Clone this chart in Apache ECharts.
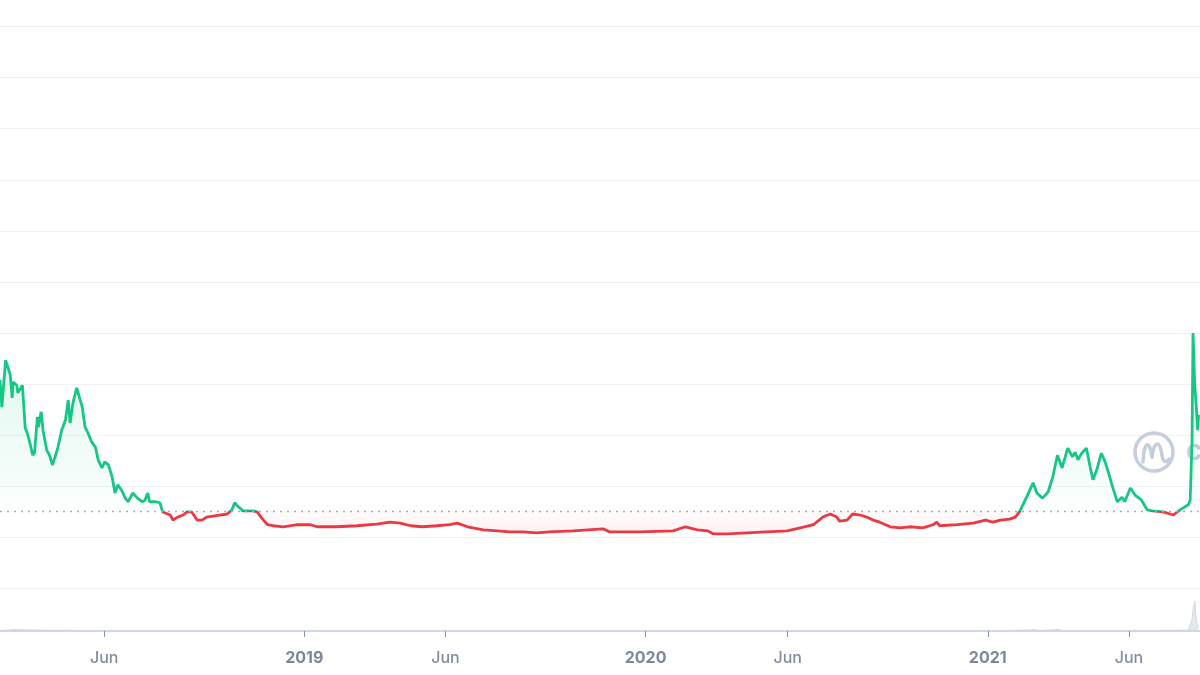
<!DOCTYPE html>
<html>
<head>
<meta charset="utf-8">
<script src="https://cdn.jsdelivr.net/npm/echarts@6/dist/echarts.min.js"></script>
<style>
html,body{margin:0;padding:0;background:#fff;}
#chart{width:1200px;height:675px;}
</style>
</head>
<body>
<div id="chart"></div>
<script>
// ---- data ----
const startDate = '2018-02-09';
// days after startDate
const dayOffsets = [
  0,2,6,11,13,14,18,19,24,25,
  27,29,32,35,37,40,41,44,46,50,
  53,56,59,62,66,70,73,75,78,82,
  84,88,91,94,98,102,105,109,112,116,
  120,123,126,130,134,137,142,147,152,155,
  158,160,166,171,174,182,185,190,196,200,
  205,211,216,221,228,235,243,248,251,255,
  260,265,271,275,280,286,292,303,318,332,
  339,360,382,403,417,428,439,452,467,481,
  489,500,517,532,545,559,574,588,613,645,
  652,685,720,733,746,757,763,778,799,820,
  842,856,870,880,888,895,898,906,912,920,
  927,934,941,952,963,973,987,998,1002,1005,
  1024,1041,1054,1062,1070,1080,1086,1091,1098,1105,
  1109,1115,1121,1126,1131,1136,1139,1142,1147,1150,
  1153,1157,1162,1166,1169,1173,1178,1182,1187,1190,
  1195,1200,1203,1209,1214,1221,1227,1233,1244,1255,
  1262,1271,1273,1275,1276,1278,1280,1281,1282
];
const prices = [
  4.08,3.55,4.47,4.18,3.73,4.04,3.98,3.83,3.98,3.69,
  3.14,3.05,2.85,2.61,2.67,3.36,3.16,3.46,3.10,2.71,
  2.61,2.42,2.58,2.77,3.10,3.30,3.69,3.24,3.63,3.93,
  3.95,3.55,3.16,3.05,2.87,2.77,2.52,2.36,2.48,2.42,
  2.18,1.87,2.03,1.93,1.77,1.70,1.87,1.77,1.70,1.73,
  1.87,1.70,1.70,1.68,1.50,1.44,1.34,1.40,1.44,1.50,
  1.50,1.34,1.34,1.40,1.42,1.44,1.46,1.54,1.68,1.60,
  1.52,1.52,1.52,1.50,1.38,1.25,1.23,1.21,1.25,1.25,
  1.21,1.21,1.23,1.26,1.30,1.28,1.23,1.21,1.23,1.25,
  1.28,1.21,1.15,1.13,1.11,1.11,1.09,1.11,1.13,1.17,
  1.11,1.11,1.13,1.21,1.15,1.13,1.07,1.07,1.09,1.11,
  1.13,1.19,1.25,1.40,1.46,1.40,1.32,1.34,1.46,1.44,
  1.40,1.34,1.30,1.21,1.19,1.21,1.19,1.25,1.30,1.23,
  1.25,1.28,1.34,1.30,1.34,1.36,1.40,1.52,1.79,2.07,
  1.87,1.77,1.89,2.18,2.61,2.36,2.56,2.75,2.58,2.67,
  2.52,2.65,2.75,2.38,2.13,2.32,2.65,2.48,2.18,1.99,
  1.70,1.79,1.70,1.97,1.83,1.73,1.54,1.52,1.50,1.44,
  1.54,1.64,1.73,2.91,5.00,3.95,3.44,3.10,3.40
];
const baseline = 1.52;
const volOffsets = [0,5,14,16,41,43,62,64,73,77,81,160,428,749,1070,1108,1112,1132,1136,1230,1271,1275,1276,1278,1279,1280,1282];
const volumes    = [1,2,5,1,3,1,2,1,3,3,1,0.8,1,0.8,1,4,1,5,1.5,1.5,3,40,70,100,60,30,15];
const tickDates = ['2018-06-01','2019-01-01','2019-06-01','2020-01-01','2020-06-01','2021-01-01','2021-06-01'];
const monthNames = ['Jan','Feb','Mar','Apr','May','Jun','Jul','Aug','Sep','Oct','Nov','Dec'];
const axisStart = '2018-02-09T12:00:00';
const axisEnd = '2021-08-16T00:00:00';

// ---- build ----
const DAY = 86400000;
const t0 = new Date(startDate + 'T12:00:00').getTime();
const priceData = dayOffsets.map((d, i) => [t0 + d * DAY, prices[i]]);
const volData = volOffsets.map((d, i) => [t0 + d * DAY, volumes[i]]);
const tickValues = tickDates.map(s => new Date(s + 'T00:00:00').getTime());
const xMin = new Date(axisStart).getTime();
const xMax = new Date(axisEnd).getTime();

function fmtDate(val) {
  const d = new Date(val);
  return d.getMonth() === 0 ? '{y|' + d.getFullYear() + '}' : '{m|' + monthNames[d.getMonth()] + '}';
}

const GREEN = '#16c784', RED = '#ea3943';
const logoStroke = { fill: 'none', stroke: '#c6cedd', lineWidth: 3.5, lineCap: 'round' };

const chart = echarts.init(document.getElementById('chart'));
const H = 675;

function buildOption(basePx, topPx, botPx) {
  const b = basePx / H, t = topPx / H, bt = botPx / H;
  const lineGrad = {
    type: 'linear', x: 0, y: 0, x2: 0, y2: H, global: true,
    colorStops: [
      { offset: 0, color: GREEN }, { offset: b, color: GREEN },
      { offset: b, color: RED }, { offset: 1, color: RED }
    ]
  };
  const areaGrad = {
    type: 'linear', x: 0, y: 0, x2: 0, y2: H, global: true,
    colorStops: [
      { offset: 0, color: 'rgba(22,199,132,0.16)' },
      { offset: t, color: 'rgba(22,199,132,0.16)' },
      { offset: b, color: 'rgba(22,199,132,0.02)' },
      { offset: b, color: 'rgba(234,57,67,0.02)' },
      { offset: bt, color: 'rgba(234,57,67,0.10)' },
      { offset: 1, color: 'rgba(234,57,67,0.10)' }
    ]
  };
  return {
    animation: false,
    backgroundColor: '#ffffff',
    textStyle: { fontFamily: 'Inter, "Noto Sans", sans-serif' },
    grid: [
      { left: 0, right: 0, top: 26.5, bottom: 86.4 },
      { left: 0, right: 0, top: 601, bottom: 44 }
    ],
    xAxis: [
      { type: 'value', gridIndex: 0, min: xMin, max: xMax, show: false, splitLine: { show: false } },
      {
        type: 'value', gridIndex: 1, min: xMin, max: xMax,
        axisLine: { show: true, lineStyle: { color: '#d3d9e4', width: 2 } },
        axisTick: { show: true, customValues: tickValues, length: 6, lineStyle: { color: '#8a91a5', width: 1 } },
        splitLine: { show: false },
        axisLabel: {
          customValues: tickValues,
          margin: 19,
          formatter: fmtDate,
          rich: {
            y: { fontSize: 16, fontWeight: 700, color: '#7f879b', fontFamily: 'Inter, sans-serif' },
            m: { fontSize: 16, fontWeight: 500, color: '#858ca2', fontFamily: 'Inter, sans-serif' }
          }
        }
      }
    ],
    yAxis: [
      {
        type: 'value', gridIndex: 0, min: 0, max: 11, interval: 1,
        axisLabel: { show: false }, axisLine: { show: false }, axisTick: { show: false },
        splitLine: { show: true, lineStyle: { color: '#eff1f5', width: 1 } }
      },
      {
        type: 'value', gridIndex: 1, min: 0, max: 100,
        show: false, splitLine: { show: false }
      }
    ],
    graphic: [
      {
        type: 'circle', shape: { cx: 1154, cy: 452, r: 19 }, silent: true, z: 1,
        style: { fill: 'none', stroke: '#c6cedd', lineWidth: 3.5 }
      },
      {
        type: 'bezierCurve', silent: true, z: 1,
        shape: { x1: 1143, y1: 462, cpx1: 1144, cpy1: 440, cpx2: 1150, cpy2: 440, x2: 1152, y2: 457 },
        style: logoStroke
      },
      {
        type: 'bezierCurve', silent: true, z: 1,
        shape: { x1: 1152, y1: 457, cpx1: 1154, cpy1: 440, cpx2: 1160, cpy2: 440, x2: 1162, y2: 455 },
        style: logoStroke
      },
      {
        type: 'bezierCurve', silent: true, z: 1,
        shape: { x1: 1162, y1: 455, cpx1: 1163, cpy1: 463, cpx2: 1166, cpy2: 463, x2: 1169, y2: 459 },
        style: logoStroke
      },
      {
        type: 'text', x: 1186, y: 452, silent: true, z: 1,
        style: { text: 'coinmarketcap', fill: '#c6cedd', fontSize: 28, fontWeight: 700, verticalAlign: 'middle', fontFamily: 'Inter, sans-serif' }
      }
    ],
    series: [
      {
        type: 'line', xAxisIndex: 0, yAxisIndex: 0, data: priceData,
        showSymbol: false, symbol: 'none', smooth: false,
        lineStyle: { width: 2.8, color: lineGrad },
        itemStyle: { color: GREEN },
        areaStyle: { origin: baseline, color: areaGrad },
        markLine: {
          silent: true, symbol: 'none', label: { show: false },
          lineStyle: { type: [2, 5], color: '#a6acbd', width: 1.3 },
          data: [{ yAxis: baseline }]
        },
        z: 3
      },
      {
        type: 'line', xAxisIndex: 1, yAxisIndex: 1, data: volData,
        showSymbol: false, symbol: 'none',
        lineStyle: { width: 0.8, color: '#cdd4e1' },
        itemStyle: { color: '#cdd4e1' },
        areaStyle: { color: 'rgba(205,212,225,0.8)' },
        z: 2
      }
    ]
  };
}

// first pass with estimated pixel positions, then refine from the axis scale
chart.setOption(buildOption(511, 400, 540));
const basePx = chart.convertToPixel({ yAxisIndex: 0 }, baseline);
const topPx = chart.convertToPixel({ yAxisIndex: 0 }, Math.max(...prices) * 0.8);
const botPx = chart.convertToPixel({ yAxisIndex: 0 }, Math.min(...prices));
chart.setOption(buildOption(basePx, topPx, botPx), true);
</script>
</body>
</html>
